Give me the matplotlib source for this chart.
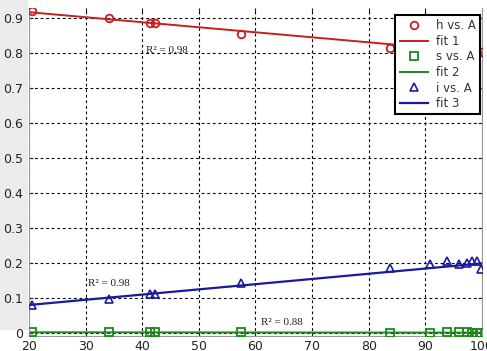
import matplotlib
matplotlib.use("Agg")
import matplotlib.pyplot as plt
from matplotlib.patches import Rectangle

# measurements against A
A = [20.5, 34.2, 41.4, 42.2, 57.5, 83.8, 90.8, 93.8, 96.0, 97.3, 98.3, 99.2, 99.8]
h = [0.920, 0.900, 0.888, 0.886, 0.857, 0.817, 0.808, 0.805, 0.803, 0.804, 0.801, 0.802, 0.805]
s = [0.003, 0.003, 0.003, 0.003, 0.003, 0.002, 0.002, 0.003, 0.005, 0.003, 0.002, 0.002, 0.002]
i = [0.081, 0.099, 0.112, 0.113, 0.145, 0.187, 0.197, 0.206, 0.197, 0.200, 0.208, 0.206, 0.185]

# linear fits (end points)
fit_x = [20, 100]
fit_h = [0.918, 0.803]
fit_s = [0.003, 0.002]
fit_i = [0.081, 0.200]

r2_labels = ["R\u00b2 = 0.98", "R\u00b2 = 0.88", "R\u00b2 = 0.98"]
r2_pos = [(40.6, 0.809), (61.0, 0.030), (30.4, 0.143)]

red = "#c81e1e"
green = "#1a8a1a"
blue = "#1a1a9c"

fig = plt.figure(figsize=(4.87, 3.51), dpi=100)
fig.patch.set_facecolor("white")
fig.patches.append(Rectangle((0, 0.06), 0.058, 0.94, transform=fig.transFigure,
                             facecolor="#ebebeb", edgecolor="none", zorder=-5))
ax = fig.add_axes([0.0596, 0.0427, 0.930, 0.934])
ax.set_facecolor("white")

ax.plot(A, h, "o", mfc="none", mec=red, ms=5.5, mew=1.3, label="h vs. A", zorder=3)
ax.plot(fit_x, fit_h, "-", color=red, lw=1.4, label="fit 1", zorder=2)
ax.plot(A, s, "s", mfc="none", mec=green, ms=5.5, mew=1.3, label="s vs. A", zorder=3)
ax.plot(fit_x, fit_s, "-", color=green, lw=1.4, label="fit 2", zorder=2)
ax.plot(A, i, "^", mfc="none", mec=blue, ms=6, mew=1.2, label="i vs. A", zorder=3)
ax.plot(fit_x, fit_i, "-", color=blue, lw=1.6, label="fit 3", zorder=2)

for txt, (tx, ty) in zip(r2_labels, r2_pos):
    ax.text(tx, ty, txt, family="Liberation Serif", fontsize=8, color="#222222",
            va="center", ha="left")

ax.set_xlim(20, 100)
ax.set_ylim(-0.0077, 0.9294)
ax.set_xticks(range(20, 101, 10))
ax.set_yticks([0, 0.1, 0.2, 0.3, 0.4, 0.5, 0.6, 0.7, 0.8, 0.9])
ax.set_yticklabels(["0", "0.1", "0.2", "0.3", "0.4", "0.5", "0.6", "0.7", "0.8", "0.9"])
ax.tick_params(direction="in", length=3, labelsize=9, colors="#222222", pad=4,
               top=True, right=True)
ax.tick_params(axis="x", pad=3)
ax.grid(True, color="black", linestyle=(0, (2.5, 2.5)), linewidth=0.8)
for side in ["left", "bottom", "right"]:
    ax.spines[side].set_color("#999999")
    ax.spines[side].set_linewidth(0.8)
ax.spines["top"].set_visible(False)

leg = ax.legend(loc="upper right", bbox_to_anchor=(0.996, 0.979), fontsize=8.5,
                fancybox=False, framealpha=1, edgecolor="black",
                handlelength=2.4, handletextpad=0.7, labelspacing=0.22,
                borderpad=0.35, borderaxespad=0)
leg.get_frame().set_linewidth(1.5)
for t in leg.get_texts():
    t.set_color("#333333")

fig.savefig("out.png", dpi=100)
